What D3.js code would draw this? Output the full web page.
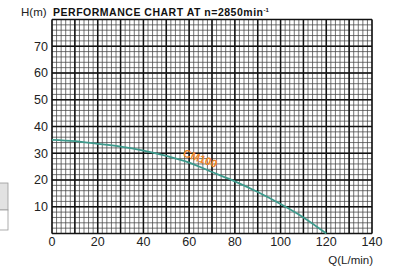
<!DOCTYPE html>
<html>
  <head>
    <meta charset="utf-8">
    <title>Performance chart</title>
    <style>
      body { margin: 0; background: #fff; }
      text { font-family: "Liberation Sans", Arial, sans-serif; }
    </style>
  </head>
  <body>
    <script src="https://d3js.org/d3.v7.min.js"></script>
    <script type="text/javascript">
      // curve
      var flow = [0, 10, 20, 30, 40, 50, 60, 70, 80, 90, 100, 110, 120];
      var head = [35, 34.5, 33.5, 32.5, 31, 29, 26.5, 23, 19.5, 15.5, 11, 6, 0];
      var xTicks = [0, 20, 40, 60, 80, 100, 120, 140];
      var yTicks = [10, 20, 30, 40, 50, 60, 70];
      var modelName = 'CM100';

      var w = 394, h = 267;
      var plotLeft = 52, plotRight = 372, plotTop = 19.5, plotBottom = 233.5;

      var svg = d3.select('body').append('svg').attr('width', w).attr('height', h);

      var x = d3.scaleLinear().domain([0, 140]).range([plotLeft, plotRight]);
      var y = d3.scaleLinear().domain([0, 80]).range([plotBottom, plotTop]);

      // partial table cut off on the left
      svg.append('rect').attr('x', -2).attr('y', 183).attr('width', 10).attr('height', 27)
        .attr('fill', '#e2e2e2').attr('stroke', '#999').attr('stroke-width', 0.8);
      svg.append('rect').attr('x', -2).attr('y', 210).attr('width', 10).attr('height', 20)
        .attr('fill', '#fff').attr('stroke', '#999').attr('stroke-width', 0.8);

      // minor grid, every 2 units
      var g = svg.append('g');
      g.selectAll('line.mx').data(d3.range(0, 141, 2)).enter().append('line').attr('class', 'mx')
        .attr('x1', function(d) { return x(d); }).attr('x2', function(d) { return x(d); })
        .attr('y1', plotTop).attr('y2', plotBottom)
        .attr('stroke', '#444').attr('stroke-width', 0.75);
      g.selectAll('line.my').data(d3.range(0, 81, 2)).enter().append('line').attr('class', 'my')
        .attr('y1', function(d) { return y(d); }).attr('y2', function(d) { return y(d); })
        .attr('x1', plotLeft).attr('x2', plotRight)
        .attr('stroke', '#444').attr('stroke-width', 0.75);

      // major grid, every 10 units
      g.selectAll('line.Mx').data(d3.range(0, 141, 10)).enter().append('line').attr('class', 'Mx')
        .attr('x1', function(d) { return x(d); }).attr('x2', function(d) { return x(d); })
        .attr('y1', plotTop).attr('y2', plotBottom)
        .attr('stroke', '#111').attr('stroke-width', 1.5);
      g.selectAll('line.My').data(d3.range(0, 81, 10)).enter().append('line').attr('class', 'My')
        .attr('y1', function(d) { return y(d); }).attr('y2', function(d) { return y(d); })
        .attr('x1', plotLeft).attr('x2', plotRight)
        .attr('stroke', '#111').attr('stroke-width', 1.5);

      // curve
      var line = d3.line()
        .x(function(d, i) { return x(flow[i]); })
        .y(function(d) { return y(d); })
        .curve(d3.curveMonotoneX);
      svg.append('path').datum(head).attr('d', line)
        .attr('fill', 'none').attr('stroke', '#3d9a8c').attr('stroke-width', 1.8);

      // model label on the curve
      svg.append('text').text(modelName)
        .attr('transform', 'translate(' + x(57) + ',' + y(29) + ') rotate(20)')
        .attr('font-size', 11).attr('font-weight', 'bold')
        .attr('fill', '#f0882a');

      // tick labels
      svg.selectAll('text.yl').data(yTicks).enter().append('text').attr('class', 'yl')
        .text(function(d) { return d; })
        .attr('x', 48).attr('y', function(d) { return y(d); })
        .attr('dy', '0.35em').attr('text-anchor', 'end')
        .attr('font-size', 12.5).attr('fill', '#222');
      svg.selectAll('text.xl').data(xTicks).enter().append('text').attr('class', 'xl')
        .text(function(d) { return d; })
        .attr('x', function(d) { return x(d); }).attr('y', 246)
        .attr('text-anchor', 'middle')
        .attr('font-size', 12.5).attr('fill', '#222');

      svg.append('text').text('Q(L/min)')
        .attr('x', 373).attr('y', 264).attr('text-anchor', 'end')
        .attr('font-size', 11.5).attr('fill', '#222');
      svg.append('text').text('H(m)')
        .attr('x', 21).attr('y', 16)
        .attr('font-size', 11.5).attr('fill', '#222');

      var title = svg.append('text').attr('x', 53).attr('y', 16)
        .attr('font-size', 10.5).attr('font-weight', 'bold').attr('fill', '#111');
      title.append('tspan').text('PERFORMANCE CHART AT n=2850min').attr('textLength', 210);
      title.append('tspan').text('-1').attr('font-size', 6).attr('dy', -4);
    </script>
  </body>
</html>
